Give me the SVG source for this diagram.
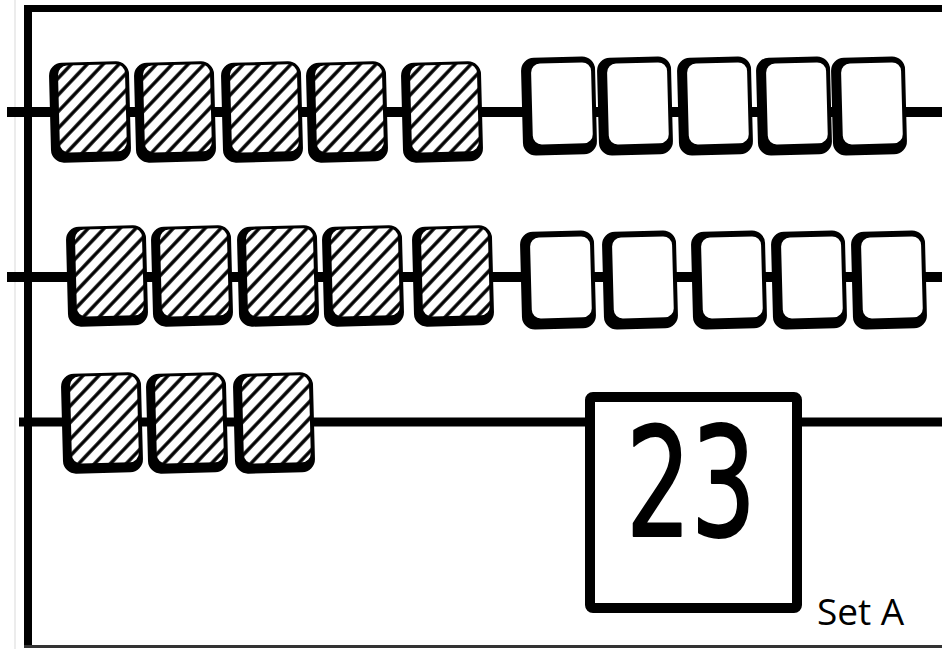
<svg xmlns="http://www.w3.org/2000/svg" xmlns:xlink="http://www.w3.org/1999/xlink" width="942" height="649" viewBox="0 0 942 649">
<style>
.str{stroke:#000;fill:none;stroke-linecap:butt}
.num{font-family:"Liberation Sans Narrow","DejaVu Sans Condensed","Liberation Sans",sans-serif;font-size:152px;fill:#000;stroke:#000;stroke-width:2;stroke-linejoin:round}
.lbl{font-family:"Open Sans","Liberation Sans",sans-serif;font-size:37px;fill:#000}
</style>
<defs>
<pattern id="hatch" patternUnits="userSpaceOnUse" width="11.5" height="11.5" patternTransform="rotate(45)">
<rect width="11.5" height="11.5" fill="#fff"/>
<line x1="5.75" y1="0" x2="5.75" y2="11.5" stroke="#000" stroke-width="3.4"/>
</pattern>
<symbol id="hbead" viewBox="-4 -4 88 108" width="88" height="108" overflow="visible">
<g transform="rotate(-1.5 40 50)">
<rect x="0" y="0" width="80" height="100" rx="13" fill="#000"/>
<rect x="9" y="3" width="67" height="87" rx="9" fill="url(#hatch)"/>
</g>
</symbol>
<symbol id="wbead" viewBox="-4 -4 82 106" width="82" height="106" overflow="visible">
<g transform="rotate(-1.5 37 49)">
<rect x="0" y="0" width="74" height="98" rx="13" fill="#000"/>
<rect x="10" y="6" width="60" height="81" rx="9" fill="#fff"/>
</g>
</symbol>
</defs>
<rect width="942" height="649" fill="#fff"/>
<g id="frame">
<line x1="15" y1="0" x2="15" y2="649" stroke="#ececec" stroke-width="2"/>
<line class="str" x1="24" y1="8.5" x2="942" y2="8.5" stroke-width="7"/>
<line class="str" x1="28" y1="5" x2="28" y2="648" stroke-width="8"/>
<line x1="24" y1="646.5" x2="942" y2="646.5" stroke="#333" stroke-width="3"/>
</g>
<g id="connectors">
<line class="str" x1="7" y1="112" x2="942" y2="112" stroke-width="10"/>
<line class="str" x1="7" y1="277" x2="942" y2="277" stroke-width="10"/>
<line class="str" x1="19" y1="422" x2="942" y2="422" stroke-width="9"/>
</g>
<g id="row1">
<g id="r1h1"><use xlink:href="#hbead" x="46" y="58"/></g>
<g id="r1h2"><use xlink:href="#hbead" x="131" y="58"/></g>
<g id="r1h3"><use xlink:href="#hbead" x="218" y="58"/></g>
<g id="r1h4"><use xlink:href="#hbead" x="303" y="58"/></g>
<g id="r1h5"><use xlink:href="#hbead" x="398" y="58"/></g>
<g id="r1w1"><use xlink:href="#wbead" x="518" y="53"/></g>
<g id="r1w2"><use xlink:href="#wbead" x="594" y="53"/></g>
<g id="r1w3"><use xlink:href="#wbead" x="674" y="53"/></g>
<g id="r1w4"><use xlink:href="#wbead" x="753" y="53"/></g>
<g id="r1w5"><use xlink:href="#wbead" x="828" y="53"/></g>
</g>
<g id="row2">
<g id="r2h1"><use xlink:href="#hbead" x="63" y="222"/></g>
<g id="r2h2"><use xlink:href="#hbead" x="148" y="222"/></g>
<g id="r2h3"><use xlink:href="#hbead" x="234" y="222"/></g>
<g id="r2h4"><use xlink:href="#hbead" x="319" y="222"/></g>
<g id="r2h5"><use xlink:href="#hbead" x="409" y="222"/></g>
<g id="r2w1"><use xlink:href="#wbead" x="517" y="227"/></g>
<g id="r2w2"><use xlink:href="#wbead" x="599" y="227"/></g>
<g id="r2w3"><use xlink:href="#wbead" x="688" y="227"/></g>
<g id="r2w4"><use xlink:href="#wbead" x="768" y="227"/></g>
<g id="r2w5"><use xlink:href="#wbead" x="848" y="227"/></g>
</g>
<g id="row3">
<g id="r3h1"><use xlink:href="#hbead" x="58" y="369"/></g>
<g id="r3h2"><use xlink:href="#hbead" x="143" y="369"/></g>
<g id="r3h3"><use xlink:href="#hbead" x="230" y="369"/></g>
</g>
<g id="countbox">
<rect x="590" y="397" width="207" height="211" rx="3" fill="#fff" stroke="#000" stroke-width="10"/>
<text class="num" x="626" y="536" textLength="130" lengthAdjust="spacingAndGlyphs">23</text>
</g>
<g id="label">
<text class="lbl" x="817" y="625">Set A</text>
</g>
</svg>
